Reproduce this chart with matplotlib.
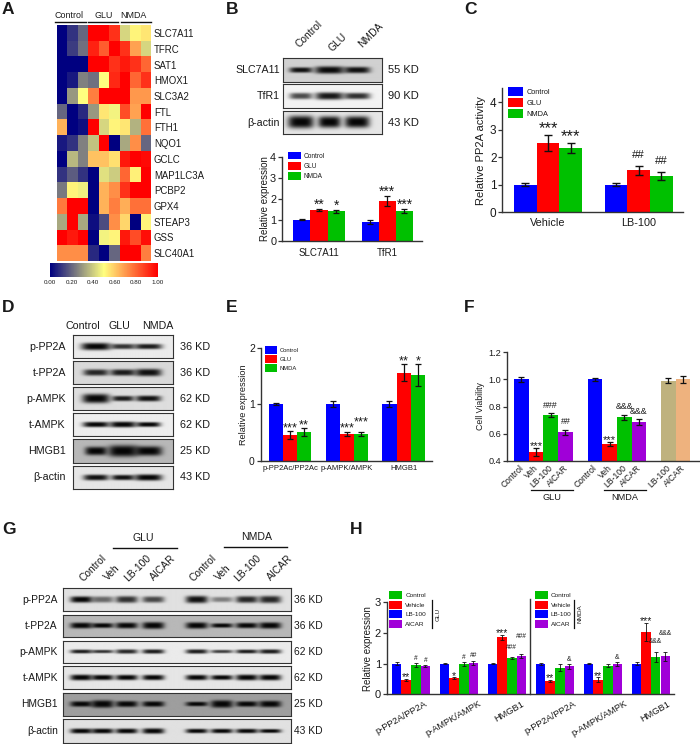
import numpy as np
import matplotlib
matplotlib.use("Agg")
import matplotlib.pyplot as plt
from matplotlib.colors import LinearSegmentedColormap
from matplotlib.patches import Patch
from matplotlib.lines import Line2D

plt.rcParams['font.family'] = ['Liberation Sans', 'DejaVu Sans']
W, H = 700, 744
fig = plt.figure(figsize=(W / 100, H / 100), dpi=100, facecolor='white')
INK = '#1a1a1a'
AXC = '#333333'
BLUE, RED, GREEN, PURPLE, TAN, PEACH = '#0000FF', '#FF0000', '#00C000', '#A000D8', '#BFB27E', '#EEB27E'

# ---------- A: heat map ----------
genes = ['SLC7A11', 'TFRC', 'SAT1', 'HMOX1', 'SLC3A2', 'FTL', 'FTH1', 'NQO1', 'GCLC',
         'MAP1LC3A', 'PCBP2', 'GPX4', 'STEAP3', 'GSS', 'SLC40A1']
heat = [[0, .1, .2, 1, 1, .9, .42, .52, .55],
        [0, .12, .22, .93, .82, 1, .9, .68, .42],
        [0, 0, 0, 1, 1, .9, .95, .9, .8],
        [0, .05, .25, .22, .5, .92, 1, .8, .9],
        [0, .3, .5, .75, 1, 1, 1, .7, .7],
        [.2, 0, .08, .3, .55, .48, .85, .68, 1],
        [.65, 0, .03, 1, .42, .52, .55, .35, .78],
        [.05, .1, .25, .38, 1, 0, .33, .72, .2],
        [0, .36, .25, .62, .62, .56, .95, 1, .98],
        [.1, .18, .1, 0, .44, .4, .8, .53, 1],
        [.24, .52, .47, 0, .65, .72, .9, 1, 1],
        [.76, 1, 1, 0, .65, .75, .66, .78, .78],
        [.33, 1, .33, .03, .15, .72, .58, 0, .52],
        [1, .95, 1, 0, .48, .52, .95, .85, .97],
        [.72, .72, .72, .08, 0, .2, 1, 1, .75]]
cbar_ticks = [0, .2, .4, .6, .8, 1]

# ---------- bar panels ----------
b_groups = ['SLC7A11', 'TfR1']
b_vals = [[1, 1.48, 1.41], [.88, 1.9, 1.43]]
b_errs = [[.03, .04, .06], [.09, .22, .09]]
b_marks = [['', '**', '*'], ['', '***', '***']]

c_groups = ['Vehicle', 'LB-100']
c_vals = [[1, 2.52, 2.33], [1, 1.53, 1.32]]
c_errs = [[.06, .28, .17], [.05, .16, .16]]
c_marks = [['', '***', '***'], ['', '##', '##']]

e_groups = ['p-PP2Ac/PP2Ac', 'p-AMPK/AMPK', 'HMGB1']
e_vals = [[1, .45, .5], [1, .47, .47], [1, 1.56, 1.52]]
e_errs = [[.02, .07, .07], [.05, .04, .04], [.05, .15, .19]]
e_marks = [['', '***', '**'], ['', '***', '***'], ['', '**', '*']]
e_lift = [[0, 0, 0], [0, 0, .12], [0, 0, 0]]

f_labels = ['Control', 'Veh', 'LB-100', 'AICAR', 'Control', 'Veh', 'LB-100', 'AICAR', 'LB-100', 'AICAR']
f_vals = [1, .465, .735, .61, 1, .52, .72, .685, .99, 1.0]
f_errs = [.02, .03, .015, .02, .012, .015, .02, .02, .02, .025]
f_marks = ['', '***', '###', '##', '', '***', '&&&', '&&&', '', '']
f_slots = [0, 1, 2, 3, 5, 6, 7, 8, 10, 11]

h_groups = ['p-PP2A/PP2A', 'p-AMPK/AMPK', 'HMGB1', 'p-PP2A/PP2A', 'p-AMPK/AMPK', 'HMGB1']
h_vals = [[1, .46, .96, .92], [1, .52, .99, 1.03], [1, 1.86, 1.19, 1.26],
          [1, .43, .87, .91], [1, .47, .93, .99], [1, 2.04, 1.21, 1.24]]
h_errs = [[.04, .04, .06, .04], [.015, .03, .06, .07], [.015, .08, .04, .06],
          [.03, .03, .11, .08], [.02, .08, .05, .06], [.05, .29, .17, .15]]
h_marks = [['', '**', '#', '#'], ['', '*', '#', '##'], ['', '***', '###', '###'],
           ['', '**', '', '&'], ['', '**', '', '&'], ['', '***', '&&&', '&&&']]
h_lift = [[0, 0, 0, 0], [0, 0, 0, .0], [0, 0, .13, .4],
          [0, 0, 0, 0], [0, 0, 0, 0], [0, 0, .18, .43]]
h_label_end = [3.36, 4.03, 3.44, 3.85, 4.24, 3.65]

# ---------- blots: per lane (width as fraction, thickness px, darkness) ----------
b_lanes = [.18, .47, .75]
b_rows = [('SLC7A11', '55 KD', .82, [(.21, 4, .95), (.27, 6, .98), (.24, 5, .95)]),
          ('TfR1', '90 KD', .95, [(.21, 5, .7), (.26, 6, .92), (.24, 5, .82)]),
          ('β-actin', '43 KD', .90, [(.24, 11, 1), (.21, 10, 1), (.23, 10, 1)])]
d_lanes = [.23, .50, .755]
d_rows = [('p-PP2A', '36 KD', .92, [(.27, 6, 1), (.22, 4, .8), (.25, 4, .9)]),
          ('t-PP2A', '36 KD', .85, [(.23, 5, .85), (.23, 5, .9), (.24, 6, .95)]),
          ('p-AMPK', '62 KD', .87, [(.25, 8, 1), (.2, 4, .9), (.23, 4.5, .95)]),
          ('t-AMPK', '62 KD', .93, [(.24, 4, 1), (.24, 4.5, 1), (.22, 3.5, 1)]),
          ('HMGB1', '25 KD', .72, [(.2, 7, 1), (.27, 10, 1), (.25, 8, 1)]),
          ('β-actin', '43 KD', .90, [(.23, 4.5, .95), (.21, 4, .95), (.25, 5, 1)])]
g_lanes = [.08, .173, .279, .396, .587, .697, .807, .909]
g_rows = [('p-PP2A', '36 KD', .88, [(5, 1), (5, .55), (5.5, .8), (5, .7), (6, .95), (4, .45), (5.5, .85), (6, .85)]),
          ('t-PP2A', '36 KD', .72, [(4.5, 1), (3.5, 1), (4.5, 1), (5.5, 1), (5, 1), (3, 1), (4, 1), (5, 1)]),
          ('p-AMPK', '62 KD', .92, [(2.5, .9), (2, .8), (3, .85), (3, .9), (3, .9), (2, .75), (2.5, .9), (3, .9)]),
          ('t-AMPK', '62 KD', .90, [(4.5, 1), (4, 1), (4, 1), (4, 1), (4, 1), (3.5, 1), (4.5, 1), (4.5, 1)]),
          ('HMGB1', '25 KD', .62, [(4, 1), (6, 1), (4.5, 1), (4, 1), (3, 1), (6, 1), (4, 1), (5, 1)]),
          ('β-actin', '43 KD', .88, [(3.5, 1), (3.5, 1), (3.5, 1), (4, 1), (3, 1), (3, 1), (3, 1), (2.5, 1)])]


def rect(l, t, r, b):
    return [l / W, 1 - b / H, (r - l) / W, (b - t) / H]


def T(x, y, s, size=8, ha='center', va='center', **kw):
    kw.setdefault('color', INK)
    return fig.text(x / W, 1 - y / H, s, fontsize=size, ha=ha, va=va, **kw)


def L(x0, x1, y0, y1, lw=1.0, color='#111111'):
    fig.add_artist(Line2D([x0 / W, x1 / W], [1 - y0 / H, 1 - y1 / H], color=color, lw=lw))


def draw_blot(box, bg, lanes, bands):
    l, t, r, b = box
    ax = fig.add_axes(rect(l, t, r, b))
    s = 3
    nx, ny = int((r - l) * s), int((b - t) * s)
    X, Y = np.meshgrid(np.linspace(0, 1, nx), np.linspace(0, b - t, ny))
    img = np.full((ny, nx), float(bg))
    for cx, (wf, hp, dk) in zip(lanes, bands):
        I = dk * np.exp(-np.abs((X - cx) / (wf * .55)) ** 4) * np.exp(-np.abs((Y - (b - t) * .5) / (hp / 2 + .7)) ** 3)
        img = img * (1 - I) + .02 * I
    ax.imshow(img, cmap='gray', vmin=0, vmax=1, aspect='auto', interpolation='bilinear')
    ax.set_xticks([])
    ax.set_yticks([])
    for sp in ax.spines.values():
        sp.set_linewidth(.8)
        sp.set_color('#333333')
    return ax


def bar_axes(left, right, base, top, first, bw, ymin, ymax, yticks, fmt, tsize):
    ax = fig.add_axes(rect(left, top, right, base))
    ax.patch.set_alpha(0)
    ax.set_xlim((left - first) / bw, (right - first) / bw)
    ax.set_ylim(ymin, ymax)
    ax.set_yticks(yticks)
    ax.set_yticklabels([fmt % v for v in yticks], fontsize=tsize, color=INK)
    ax.tick_params(axis='y', length=3, width=.9, pad=1.2, color=AXC)
    ax.tick_params(axis='x', length=0)
    for k in ('top', 'right'):
        ax.spines[k].set_visible(False)
    for k in ('left', 'bottom'):
        ax.spines[k].set_linewidth(1.0)
        ax.spines[k].set_color(AXC)
    return ax


def mark(ax, x, y, s, size):
    if not s:
        return
    off = (.5 * size - 4.6) if '*' in s else (.95 * size - 2.2)
    ax.annotate(s, (x, y), xytext=(0, off), textcoords='offset points', ha='center', va='baseline',
                fontsize=size, color=INK, clip_on=False)


def draw_bars(ax, slots, vals, errs, colors, marks, cap, elw, sizes, lifts=None):
    for i, (x, v, e, c, m) in enumerate(zip(slots, vals, errs, colors, marks)):
        ax.bar(x + .5, v, width=1, color=c, linewidth=0, zorder=2)
        ax.errorbar(x + .5, v, yerr=e, color='#111111', capsize=cap, elinewidth=elw, capthick=elw, zorder=3, fmt='none')
        sz = sizes[0] if '*' in m else sizes[1]
        mark(ax, x + .5, v + e + (lifts[i] if lifts else 0), m, sz)


def legend(ax, x, y, labels, colors, fs, pw, ph, pitch, gap):
    fpx = fs * 100 / 72
    hh = (ph / fpx - .245) / .65
    handles = [Patch(facecolor=c, edgecolor='none') for c in colors]
    ax.legend(handles, labels, loc='upper left', bbox_to_anchor=(x / W, 1 - y / H), bbox_transform=fig.transFigure,
              frameon=False, fontsize=fs, borderaxespad=0, borderpad=0, handlelength=pw / fpx, handleheight=hh,
              labelspacing=(pitch - ph) / fpx, handletextpad=gap / fpx, labelcolor=INK)


for s, x, y in [('A', 2, 9), ('B', 226, 9), ('C', 464, 9), ('D', 2, 307), ('E', 226, 307), ('F', 464, 307),
                ('G', 2, 529), ('H', 350, 529)]:
    T(x, y, s, size=12.5, ha='left', fontweight='bold')

# A
cmap = LinearSegmentedColormap.from_list('hm', ['#000080', '#FFFF80', '#FF0000'])
ax = fig.add_axes(rect(56.7, 25.3, 150.7, 261))
im = ax.imshow(heat, cmap=cmap, vmin=0, vmax=1, aspect='auto', interpolation='nearest')
ax.set_xticks([])
ax.yaxis.tick_right()
ax.set_yticks(range(len(genes)))
ax.set_yticklabels(genes, fontsize=6.9, color=INK)
ax.tick_params(axis='y', length=0, pad=2.3)
for sp in ax.spines.values():
    sp.set_visible(False)
cax = fig.add_axes(rect(50, 262.7, 157.7, 277))
cb = fig.colorbar(im, cax=cax, orientation='horizontal', ticks=cbar_ticks, format='%.2f')
cb.outline.set_visible(False)
cb.ax.tick_params(length=0, labelsize=4.5, pad=2, labelcolor=INK)
T(69, 15.5, 'Control', 6.4)
T(104, 15.5, 'GLU', 6.4)
T(133, 15.5, 'NMDA', 6.4)
for a, b_ in [(55, 86), (88, 118), (121, 151)]:
    L(a, b_, 22.3, 22.3, lw=1.0)

# B blots
for (name, kd, bg, bands), (t_, b_) in zip(b_rows, [(58, 81.7), (84, 107.7), (111, 134.3)]):
    draw_blot((283.3, t_, 382.3, b_), bg, b_lanes, bands)
    T(280, (t_ + b_) / 2, name, 7.7, ha='right')
    T(387.7, (t_ + b_) / 2, kd, 8, ha='left')
for x, y, s in [(309, 34, 'Control'), (338, 42, 'GLU'), (371, 35, 'NMDA')]:
    T(x, y, s, 7.4, rotation=45)

# B bars
ax = bar_axes(282, 421.7, 240.7, 157.3, 293.3, 17.1, 0, 4, [0, 1, 2, 3, 4], '%d', 7.8)
for g, x0 in enumerate([0, 4]):
    draw_bars(ax, [x0, x0 + 1, x0 + 2], b_vals[g], b_errs[g], [BLUE, RED, GREEN], b_marks[g], 2.4, .9, (10, 8))
ax.set_xticks([1.5, 5.5])
ax.set_xticklabels(b_groups, fontsize=7, color=INK)
ax.tick_params(axis='x', pad=5.5)
ax.set_ylabel('Relative expression', fontsize=7, color=INK, labelpad=0)
legend(ax, 288.3, 151.7, ['Control', 'GLU', 'NMDA'], [BLUE, RED, GREEN], 4.7, 12.7, 7.7, 9.9, 3)

# C bars
ax = bar_axes(502.3, 683.3, 212.3, 88.3, 514, 22.67, 0, 4.5, [0, 1, 2, 3, 4], '%d', 8.5)
for g, x0 in enumerate([0, 4]):
    draw_bars(ax, [x0, x0 + 1, x0 + 2], c_vals[g], c_errs[g], [BLUE, RED, GREEN], c_marks[g], 3, 1, (12, 8.2))
ax.set_xticks([1.5, 5.5])
ax.set_xticklabels(c_groups, fontsize=7.8, color=INK)
ax.tick_params(axis='x', pad=4)
ax.set_ylabel('Relative PP2A activity', fontsize=8, color=INK, labelpad=3)
legend(ax, 508, 86.7, ['Control', 'GLU', 'NMDA'], [BLUE, RED, GREEN], 5.3, 14.7, 9.3, 11.2, 3.6)

# D blots
d_y = [(335.3, 358.3), (361.3, 384), (387.3, 410.3), (413, 436), (439.3, 462.7), (465.7, 488.7)]
for (name, kd, bg, bands), (t_, b_) in zip(d_rows, d_y):
    draw_blot((73.3, t_, 172.7, b_), bg, d_lanes, bands)
    T(66, (t_ + b_) / 2, name, 7.7, ha='right')
    T(180, (t_ + b_) / 2, kd, 7.8, ha='left')
for x, s in [(83, 'Control'), (119.5, 'GLU'), (158, 'NMDA')]:
    T(x, 326, s, 7.7)

# E bars
ax = bar_axes(260.7, 431.7, 460.7, 347.7, 268.7, 14.2, 0, 2, [0, 1, 2], '%d', 7.5)
for g, x0 in enumerate([0, 4, 8]):
    draw_bars(ax, [x0, x0 + 1, x0 + 2], e_vals[g], e_errs[g], [BLUE, RED, GREEN], e_marks[g], 2.2, .9, (9.2, 8), e_lift[g])
ax.set_xticks([1.5, 5.5, 9.5])
ax.set_xticklabels(e_groups, fontsize=5.5, color=INK)
ax.tick_params(axis='x', pad=3)
ax.set_ylabel('Relative expression', fontsize=6.6, color=INK, labelpad=1)
legend(ax, 265, 346.3, ['Control', 'GLU', 'NMDA'], [BLUE, RED, GREEN], 4.25, 12.3, 7.6, 9, 2.7)

# F bars
ax = bar_axes(507, 698.7, 460.7, 352.3, 514, 14.7, .4, 1.2, [.4, .6, .8, 1.0, 1.2], '%.1f', 6.6)
f_colors = [BLUE, RED, GREEN, PURPLE, BLUE, RED, GREEN, PURPLE, TAN, PEACH]
draw_bars(ax, f_slots, f_vals, f_errs, f_colors, f_marks, 2.2, .9, (8, 6.4))
ax.set_xticks([x + .35 for x in f_slots])
ax.set_xticklabels(f_labels, fontsize=6.2, color=INK, rotation=45, ha='right', va='top', rotation_mode='anchor')
ax.tick_params(axis='x', pad=2)
ax.set_ylabel('Cell Viability', fontsize=6.3, color=INK, labelpad=2.5)
L(531, 572.7, 490.3, 490.3, lw=.9)
L(603.7, 645.7, 490.3, 490.3, lw=.9)
T(551.7, 497.7, 'GLU', 6.6)
T(624.7, 497.7, 'NMDA', 6.6)

# G blots
g_y = [(588.3, 611.3), (614.7, 637.3), (640.7, 663.3), (666.3, 689.3), (692.7, 716), (719.3, 742.7)]
for (name, kd, bg, pairs), (t_, b_) in zip(g_rows, g_y):
    draw_blot((63.3, t_, 290.7, b_), bg, g_lanes, [(.088, h_, d_) for h_, d_ in pairs])
    T(58, (t_ + b_) / 2, name, 7.4, ha='right')
    T(293.5, (t_ + b_) / 2, kd, 7.4, ha='left')
for x, y, s in [(93, 568, 'Control'), (112, 573, 'Veh'), (138, 568, 'LB-100'), (163, 568, 'AICAR'),
                (203, 568, 'Control'), (223, 573, 'Veh'), (248, 568, 'LB-100'), (280, 568, 'AICAR')]:
    T(x, y, s, 7.4, rotation=45)
T(143, 538, 'GLU', 7.6)
T(256.7, 537, 'NMDA', 7.6)
L(113, 176.7, 548.3, 548.3)
L(224, 287, 547.3, 547.3)

# H bars
ax = bar_axes(386.7, 674, 694.3, 602.3, 391.7, 9.6, 0, 3, [0, 1, 2, 3], '%d', 8)
for g in range(6):
    x0 = g * 5
    draw_bars(ax, [x0 + i for i in range(4)], h_vals[g], h_errs[g], [BLUE, RED, GREEN, PURPLE], h_marks[g],
              1.2, .6, (7.5, 4.8), h_lift[g])
ax.set_xticks([g * 5 + e for g, e in enumerate(h_label_end)])
ax.set_xticklabels(h_groups, fontsize=6.7, color=INK, rotation=30, ha='right', va='top', rotation_mode='anchor')
ax.tick_params(axis='x', pad=3.5)
ax.set_ylabel('Relative expression', fontsize=7, color=INK, labelpad=1.5)
legend(ax, 389.3, 591, ['Control', 'Vehicle', 'LB-100', 'AICAR'], [GREEN, RED, BLUE, PURPLE], 4.6, 12.7, 7.9, 9.6, 3.3)
ax2 = fig.add_axes(rect(534, 590, 600, 630))
ax2.axis('off')
legend(ax2, 535.3, 591, ['Control', 'Vehicle', 'LB-100', 'AICAR'], [GREEN, RED, BLUE, PURPLE], 4.6, 12.7, 7.9, 9.6, 2.9)
L(530, 530, 598.7, 694.3, lw=1.0, color='#333333')
L(431.7, 431.7, 600, 628, lw=.9)
L(574, 574, 600, 628, lw=.9)
T(438.5, 614, 'GLU', 4.6, rotation=90)
T(580.5, 614, 'NMDA', 4.6, rotation=90)

fig.savefig('out.png', dpi=100, facecolor='white')
